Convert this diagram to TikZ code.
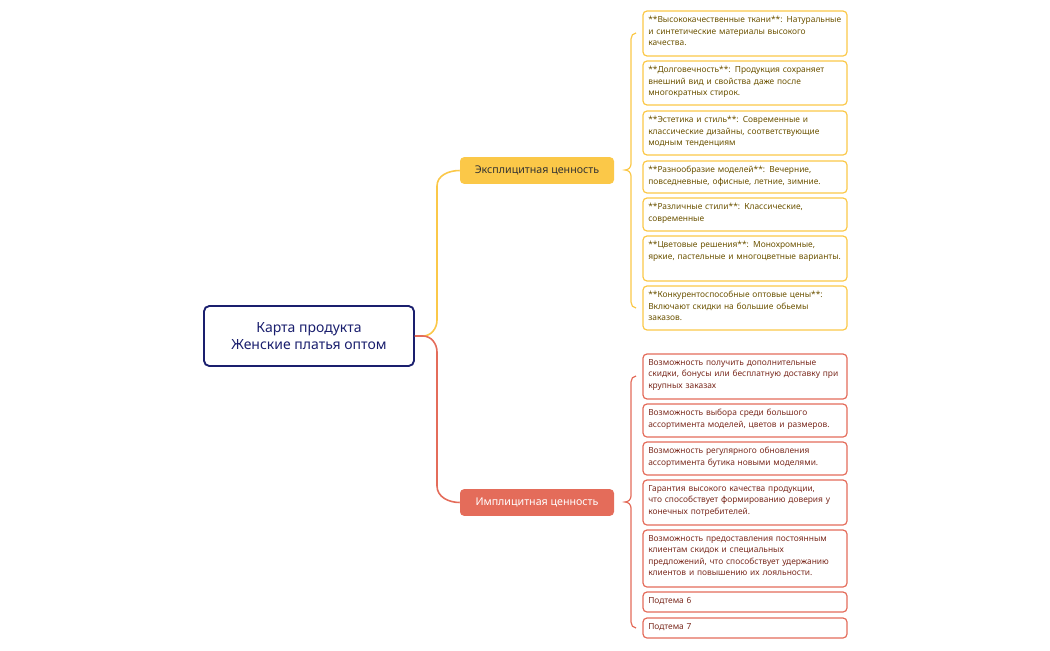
\documentclass[tikz,border=0pt]{standalone}
\usepackage{fontspec}
\setmainfont{Noto Sans}
\definecolor{ylw}{HTML}{FBC848}
\definecolor{ytxt}{HTML}{6B5200}
\definecolor{rd}{HTML}{E46C5A}
\definecolor{rtxt}{HTML}{7A2A1E}
\definecolor{navy}{HTML}{1A1F6E}
\tikzset{
 box/.style={draw, rounded corners=3pt, line width=0.9pt},
 btxt/.style={anchor=north west, text width=146pt, align=left, inner sep=0pt, font=\fontsize{6.3}{8.6}\selectfont},
 yb/.style={box, draw=ylw},
 rb/.style={box, draw=rd},
}
\newcommand\mybox[6]{% name, style, y1, y2, textcolor, text
 \draw[#2] (643,#3) rectangle (847,#4);
 \node[btxt, text=#5] (#1) at (648,#3+5) {#6};}
\begin{document}
\begin{tikzpicture}[x=0.75pt,y=-0.75pt]
\useasboundingbox (0,0) rectangle (1050,650);
% root
\node[draw=navy, line width=1.4pt, rounded corners=4pt, minimum width=157.5pt, minimum height=45pt, align=center, text=navy, font=\fontsize{10.5}{13}\selectfont] (root) at (309,336) {Карта продукта\\Женские платья оптом};
\node[fill=ylw, rounded corners=3pt, minimum width=115.5pt, minimum height=20pt, font=\fontsize{8}{10}\selectfont, text=black!80] (exp) at (537,170.5) {Эксплицитная ценность};
\node[fill=rd, rounded corners=3pt, minimum width=115.5pt, minimum height=20pt, font=\fontsize{8}{10}\selectfont, text=white] (imp) at (537,502.5) {Имплицитная ценность};
\draw[ylw, line width=1.2pt] (root.east) -- ++(8,0) to[out=0,in=270] (437,320) -- (437,186) to[out=90,in=180] (exp.west);
\draw[rd, line width=1.2pt] (root.east) -- ++(8,0) to[out=0,in=90] (437,352) -- (437,486) to[out=270,in=180] (imp.west);
% braces
\draw[ylw, line width=0.9pt] (636,33) to[out=180,in=90] (631,39) -- (631,164) to[out=270,in=0] (625,170) to[out=0,in=90] (631,176) -- (631,302) to[out=270,in=180] (636,308);
\draw[rd, line width=0.9pt] (636,376) to[out=180,in=90] (631,382) -- (631,496) to[out=270,in=0] (625,502) to[out=0,in=90] (631,508) -- (631,622) to[out=270,in=180] (636,628);
% yellow boxes
\mybox{y1}{yb}{11}{56}{ytxt}{**Высококачественные ткани**: Натуральные и синтетические материалы высокого качества.}
\mybox{y2}{yb}{61}{105}{ytxt}{**Долговечность**: Продукция сохраняет внешний вид и свойства даже после многократных стирок.}
\mybox{y3}{yb}{111}{155}{ytxt}{**Эстетика и стиль**: Современные и классические дизайны, соответствующие модным тенденциям}
\mybox{y4}{yb}{161}{193}{ytxt}{**Разнообразие моделей**: Вечерние, повседневные, офисные, летние, зимние.}
\mybox{y5}{yb}{198}{231}{ytxt}{**Различные стили**: Классические, современные}
\mybox{y6}{yb}{236}{281}{ytxt}{**Цветовые решения**: Монохромные, яркие, пастельные и многоцветные варианты.}
\mybox{y7}{yb}{286}{330}{ytxt}{**Конкурентоспособные оптовые цены**: Включают скидки на большие обьемы заказов.}
% red boxes
\mybox{r1}{rb}{354}{399}{rtxt}{Возможность получить дополнительные скидки, бонусы или бесплатную доставку при крупных заказах}
\mybox{r2}{rb}{404}{437}{rtxt}{Возможность выбора среди большого ассортимента моделей, цветов и размеров.}
\mybox{r3}{rb}{442}{475}{rtxt}{Возможность регулярного обновления ассортимента бутика новыми моделями.}
\mybox{r4}{rb}{480}{525}{rtxt}{Гарантия высокого качества продукции, что способствует формированию доверия у конечных потребителей.}
\mybox{r5}{rb}{530}{587}{rtxt}{Возможность предоставления постоянным клиентам скидок и специальных предложений, что способствует удержанию клиентов и повышению их лояльности.}
\mybox{r6}{rb}{592}{612}{rtxt}{Подтема 6}
\mybox{r7}{rb}{618}{638}{rtxt}{Подтема 7}
\end{tikzpicture}
\end{document}
